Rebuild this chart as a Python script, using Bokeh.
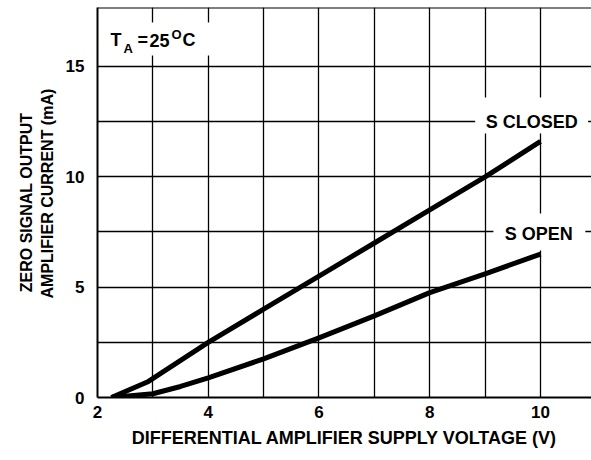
from bokeh.plotting import figure
from bokeh.models import FixedTicker, Range1d, Label, BoxAnnotation, Span
from bokeh.embed import file_html
from bokeh.resources import INLINE

# ---- data ----
v_closed = [2.25, 2.9, 4.0, 5.0, 6.0, 7.0, 8.0, 9.0, 10.0]
i_closed = [0.0, 0.7, 2.5, 4.0, 5.5, 7.0, 8.5, 10.0, 11.6]

v_open = [2.25, 3.0, 3.5, 4.0, 5.0, 6.0, 7.0, 8.0, 9.0, 10.0]
i_open = [0.0, 0.17, 0.5, 0.89, 1.75, 2.7, 3.7, 4.75, 5.6, 6.5]

x_ticks = [2, 4, 6, 8, 10]
x_grid = [2, 3, 4, 5, 6, 7, 8, 9, 10, 11]
y_ticks = [0, 5, 10, 15]
y_grid = [0, 2.5, 5, 7.5, 10, 12.5, 15]

x_title = "DIFFERENTIAL AMPLIFIER SUPPLY VOLTAGE (V)"
y_title_1 = "ZERO SIGNAL OUTPUT"
y_title_2 = "AMPLIFIER CURRENT (mA)"

FONT = "Liberation Sans"
X_END = 10.921
Y_END = 17.67
NB = "\u00a0"

p = figure(width=591, height=458, output_backend="svg", toolbar_location=None,
           x_range=Range1d(2, X_END), y_range=Range1d(0, Y_END),
           min_border_left=97, min_border_right=0, min_border_top=7,
           min_border_bottom=61)
p.outline_line_color = None
p.background_fill_color = "white"
p.border_fill_color = "white"

# axes
for ax in (p.xaxis[0], p.yaxis[0]):
    ax.major_tick_line_color = None
    ax.minor_tick_line_color = None
    ax.major_tick_out = 0
    ax.major_tick_in = 0
    ax.axis_line_color = "black"
    ax.axis_line_width = 2
    ax.major_label_text_font = FONT
    ax.major_label_text_font_style = "bold"
    ax.major_label_text_font_size = "17px"
    ax.major_label_text_color = "black"
    ax.axis_label_text_font = FONT
    ax.axis_label_text_font_style = "bold"
    ax.axis_label_text_font_size = "18px"
    ax.axis_label_text_color = "black"

p.xaxis.ticker = FixedTicker(ticks=x_ticks)
p.yaxis.ticker = FixedTicker(ticks=y_ticks)
p.xaxis.major_label_standoff = 8
p.yaxis.major_label_standoff = 13

p.xaxis.axis_label = x_title
p.xaxis.axis_label_standoff = 7
# two lines, start-aligned like the reference (non-breaking spaces pad the shorter line)
p.yaxis.axis_label = (NB * 4 + y_title_1 + NB * 4) + "\n" + (NB * 4 + y_title_2)
p.yaxis.axis_label_text_font_size = "16px"
p.yaxis.axis_label_standoff = 7

# grid
p.xgrid.ticker = FixedTicker(ticks=x_grid)
p.ygrid.ticker = FixedTicker(ticks=y_grid)
for g in (p.xgrid[0], p.ygrid[0]):
    g.grid_line_color = "black"
    g.grid_line_width = 1.3
    g.grid_line_alpha = 1.0

# top border
p.add_layout(Span(location=Y_END, dimension="width", line_color="black", line_width=2))

# white label boxes
for l, r, b, t in [(2.03, 4.31, 15.50, 16.99),
                   (8.82, 10.86, 11.96, 13.59),
                   (9.15, 10.81, 6.66, 8.34)]:
    p.add_layout(BoxAnnotation(left=l, right=r, bottom=b, top=t,
                               fill_color="white", fill_alpha=1.0,
                               line_color=None))

# curves
p.line(v_closed, i_closed, line_color="black", line_width=5, line_join="round")
p.line(v_open, i_open, line_color="black", line_width=5, line_join="round")

def lab(text, x, y, size, align="left", baseline="alphabetic"):
    p.add_layout(Label(x=x, y=y, text=text, text_font=FONT, text_font_style="bold",
                       text_font_size=size, text_color="black", text_align=align,
                       text_baseline=baseline))

# curve labels
lab("S CLOSED", 9.843, 12.5, "18px", align="center")
lab("S OPEN", 9.97, 7.39, "18px", align="center")

# T_A = 25 oC
lab("T", 2.235, 16.18, "18px")
lab("A", 2.470, 15.81, "13px")
lab("=", 2.722, 16.18, "18px")
lab("25", 2.939, 16.18, "18px")
lab("O", 3.336, 16.45, "13px")
lab("C", 3.535, 16.18, "18px")

open("out.html", "w").write(file_html(p, INLINE))
